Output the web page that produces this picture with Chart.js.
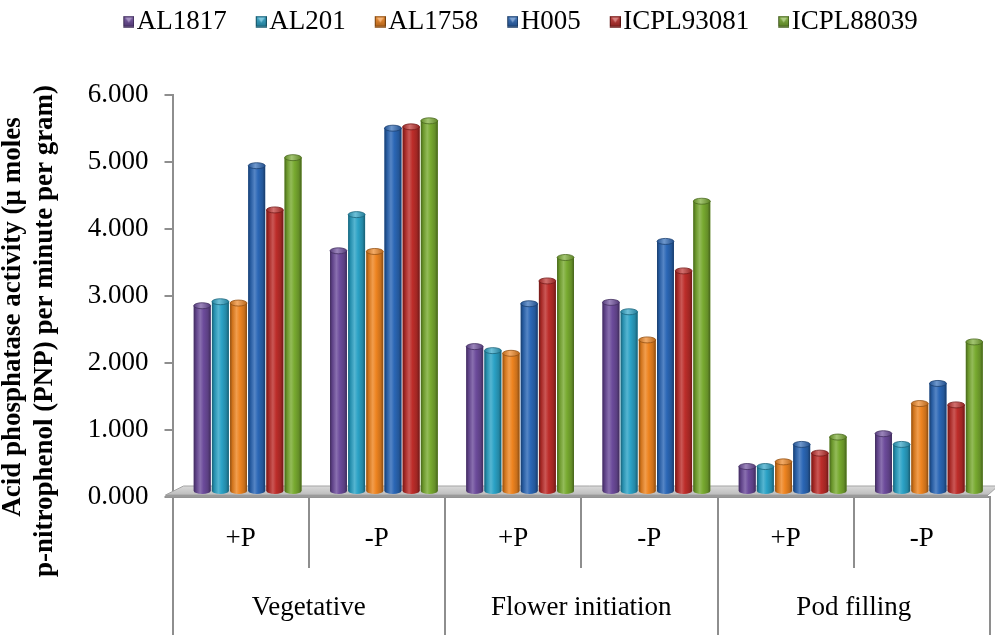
<!DOCTYPE html>
<html>
<head>
<meta charset="utf-8">
<script src="https://cdn.jsdelivr.net/npm/chart.js@4.4.1/dist/chart.umd.min.js"></script>
<style>
  html, body { margin: 0; padding: 0; background: #ffffff; }
  #wrap { width: 995px; height: 635px; position: relative; }
</style>
</head>
<body>
<div id="wrap"><canvas id="chart"></canvas></div>
<script>
// Growth stages (outer axis row) and phosphorus treatment per column (inner row)
const stages = ['Vegetative', 'Flower initiation', 'Pod filling'];
const treatments = ['+P', '-P', '+P', '-P', '+P', '-P'];

// Genotypes and their acid phosphatase activity per column
const genotypes = ['AL1817', 'AL201', 'AL1758', 'H005', 'ICPL93081', 'ICPL88039'];
const al1817    = [2.78, 3.60, 2.17, 2.83, 0.38, 0.87];
const al201     = [2.84, 4.14, 2.11, 2.69, 0.38, 0.71];
const al1758    = [2.82, 3.59, 2.07, 2.27, 0.45, 1.32];
const h005      = [4.87, 5.43, 2.81, 3.74, 0.71, 1.62];
const icpl93081 = [4.21, 5.45, 3.15, 3.30, 0.58, 1.30];
const icpl88039 = [4.99, 5.54, 3.50, 4.34, 0.82, 2.24];
const seriesValues = [al1817, al201, al1758, h005, icpl93081, icpl88039];

// Value axis range
const yMin = 0;
const yMax = 6;
const yStep = 1;

const yTitleLines = ['Acid phosphatase activity (\u00b5 moles', 'p-nitrophenol (PNP) per minute per gram)'];

const barColors = ['#6c4b9b', '#2ba2c6', '#ee8420', '#2b67b6', '#bd2d2a', '#78aa30'];

const SERIF = "'Liberation Serif', 'Times New Roman', serif";
const AXIS_GRAY = '#8e8e8e';
const LEGEND_BAND = 95;

function rgbOf(hex) {
  const n = parseInt(hex.slice(1), 16);
  return [(n >> 16) & 255, (n >> 8) & 255, n & 255];
}
function shade(hex, f) {
  const [r, g, b] = rgbOf(hex);
  return `rgb(${Math.round(r * f)},${Math.round(g * f)},${Math.round(b * f)})`;
}
function tint(hex, t) {
  const [r, g, b] = rgbOf(hex);
  return `rgb(${Math.round(r + (255 - r) * t)},${Math.round(g + (255 - g) * t)},${Math.round(b + (255 - b) * t)})`;
}

// Legend marker: glossy square drawn at the right end of a wider, transparent image
const SWATCH_GAP = 21;
function legendSwatch(color) {
  const W = SWATCH_GAP + 22, H = 12, S = 11;
  const cv = document.createElement('canvas');
  cv.width = W; cv.height = H;
  const c = cv.getContext('2d');
  const x0 = W - S;
  const g = c.createLinearGradient(0, 0, 0, S);
  g.addColorStop(0, tint(color, 0.15));
  g.addColorStop(1, shade(color, 0.75));
  c.fillStyle = g;
  c.fillRect(x0, 0.5, S, S);
  c.fillStyle = tint(color, 0.4);
  c.beginPath();
  c.moveTo(x0 + 2, 2); c.lineTo(x0 + S - 2, 2); c.lineTo(x0 + S / 2, 7);
  c.closePath(); c.fill();
  c.strokeStyle = shade(color, 0.5);
  c.lineWidth = 1;
  c.strokeRect(x0 + 0.5, 1, S - 1, S - 1);
  return cv;
}

// The legend occupies a taller band so the plot starts lower down
const legendBand = {
  id: 'legendBand',
  beforeLayout(chart) {
    const lg = chart.legend;
    if (lg && !lg._bandFit) {
      const fit = lg.fit.bind(lg);
      lg.fit = function () { fit(); this.height = Math.max(this.height, LEGEND_BAND); };
      lg._bandFit = true;
    }
  }
};

// Depth offset of the columns above the floor, and the half-height of their elliptic caps
const DEPTH_X = 7, DEPTH_Y = -5, CAP = 3;

function drawFloor(chart) {
  const { left, right, bottom } = chart.chartArea;
  const ctx = chart.ctx;
  ctx.save();
  ctx.beginPath();
  ctx.moveTo(left - 7, bottom - 2);
  ctx.lineTo(left + 11, bottom - 11);
  ctx.lineTo(right + 8, bottom - 11);
  ctx.lineTo(right - 2, bottom - 2);
  ctx.closePath();
  const g = ctx.createLinearGradient(0, bottom - 11, 0, bottom - 2);
  g.addColorStop(0, '#dadada');
  g.addColorStop(1, '#bcbcbc');
  ctx.fillStyle = g;
  ctx.fill();
  ctx.strokeStyle = '#a4a4a4';
  ctx.lineWidth = 1;
  ctx.stroke();
  ctx.fillStyle = '#9a9a9a';
  ctx.fillRect(left - 7, bottom - 2, right - left + 5, 2.5);
  ctx.restore();
}

const cylinderBars = {
  id: 'cylinderBars',
  beforeDatasetsDraw(chart) {
    drawFloor(chart);
    chart.ctx.save();
    chart.ctx.translate(DEPTH_X, DEPTH_Y);
  },
  afterDatasetsDraw(chart) {
    const ctx = chart.ctx;
    chart.data.datasets.forEach((ds, di) => {
      const meta = chart.getDatasetMeta(di);
      if (meta.hidden) return;
      const col = barColors[di];
      meta.data.forEach(el => {
        const { x, y, base, width } = el.getProps(['x', 'y', 'base', 'width'], true);
        const l = x - width / 2, r = x + width / 2;
        const side = ctx.createLinearGradient(l, 0, r, 0);
        side.addColorStop(0, shade(col, 0.6));
        side.addColorStop(0.14, shade(col, 0.88));
        side.addColorStop(0.38, tint(col, 0.2));
        side.addColorStop(0.58, col);
        side.addColorStop(0.84, shade(col, 0.84));
        side.addColorStop(1, shade(col, 0.58));
        ctx.beginPath();
        ctx.moveTo(l, y);
        ctx.lineTo(l, base);
        ctx.ellipse(x, base, width / 2, CAP, 0, Math.PI, 0, true);
        ctx.lineTo(r, y);
        ctx.closePath();
        ctx.fillStyle = side;
        ctx.fill();

        const cap = ctx.createLinearGradient(l, 0, r, 0);
        cap.addColorStop(0, shade(col, 0.8));
        cap.addColorStop(0.42, tint(col, 0.32));
        cap.addColorStop(1, shade(col, 0.78));
        ctx.beginPath();
        ctx.ellipse(x, y, width / 2, CAP, 0, 0, Math.PI * 2);
        ctx.fillStyle = cap;
        ctx.fill();
        ctx.strokeStyle = shade(col, 0.62);
        ctx.lineWidth = 0.8;
        ctx.stroke();
      });
    });
    ctx.restore();
  }
};

// Two-line rotated value-axis title, centred on each line's own run
const yAxisTitle = {
  id: 'yAxisTitle',
  afterDraw(chart) {
    const lines = chart.options.scales.y.title.text;
    const ctx = chart.ctx;
    const spots = [[13, 317], [45, 331]];
    ctx.save();
    ctx.font = `bold 27px ${SERIF}`;
    ctx.fillStyle = '#000000';
    ctx.textAlign = 'center';
    ctx.textBaseline = 'middle';
    lines.forEach((line, i) => {
      ctx.save();
      ctx.translate(spots[i][0], spots[i][1]);
      ctx.rotate(-Math.PI / 2);
      ctx.fillText(line, 0, 0);
      ctx.restore();
    });
    ctx.restore();
  }
};

Chart.defaults.font.family = SERIF;
Chart.defaults.color = '#000000';

const datasets = genotypes.map((name, i) => ({
  label: name,
  data: seriesValues[i],
  backgroundColor: barColors[i],
  borderWidth: 0,
  pointStyle: legendSwatch(barColors[i]),
  categoryPercentage: 0.8,
  barPercentage: 0.93
}));

new Chart(document.getElementById('chart'), {
  type: 'bar',
  data: { labels: treatments, datasets },
  plugins: [legendBand, cylinderBars, yAxisTitle],
  options: {
    responsive: true,
    maintainAspectRatio: false,
    animation: false,
    events: [],
    layout: { padding: { left: 30, right: 5, top: 0, bottom: 0 } },
    plugins: {
      tooltip: { enabled: false },
      legend: {
        position: 'top',
        labels: {
          usePointStyle: true,
          pointStyleWidth: SWATCH_GAP,
          padding: 8,
          color: '#000000',
          font: { size: 27, family: SERIF }
        }
      }
    },
    scales: {
      y: {
        min: yMin,
        max: yMax,
        title: { display: false, text: yTitleLines },
        ticks: {
          stepSize: yStep,
          padding: 16,
          font: { size: 27, family: SERIF },
          color: '#000000',
          callback: v => Number(v).toFixed(3)
        },
        grid: { drawOnChartArea: false, drawTicks: true, tickLength: 8, color: AXIS_GRAY, lineWidth: 2 },
        border: { display: true, color: AXIS_GRAY, width: 2 },
        afterFit(s) { s.width = 142.5; }
      },
      x: {
        type: 'category',
        position: 'bottom',
        weight: 0,
        offset: true,
        ticks: { padding: -45, font: { size: 27, family: SERIF }, color: '#000000', maxRotation: 0, autoSkip: false },
        grid: { offset: true, drawOnChartArea: false, drawTicks: true, tickLength: 71, color: AXIS_GRAY, lineWidth: 2 },
        border: { display: true, color: AXIS_GRAY, width: 2 },
        afterFit(s) { s.height = 71; }
      },
      x2: {
        type: 'category',
        position: 'bottom',
        weight: 1,
        labels: stages,
        offset: true,
        ticks: { padding: -43, font: { size: 27, family: SERIF }, color: '#000000', maxRotation: 0, autoSkip: false },
        grid: { offset: true, drawOnChartArea: false, drawTicks: true, tickLength: 67, color: AXIS_GRAY, lineWidth: 2 },
        border: { display: false },
        afterFit(s) { s.height = 67; }
      }
    }
  }
});
</script>
</body>
</html>
